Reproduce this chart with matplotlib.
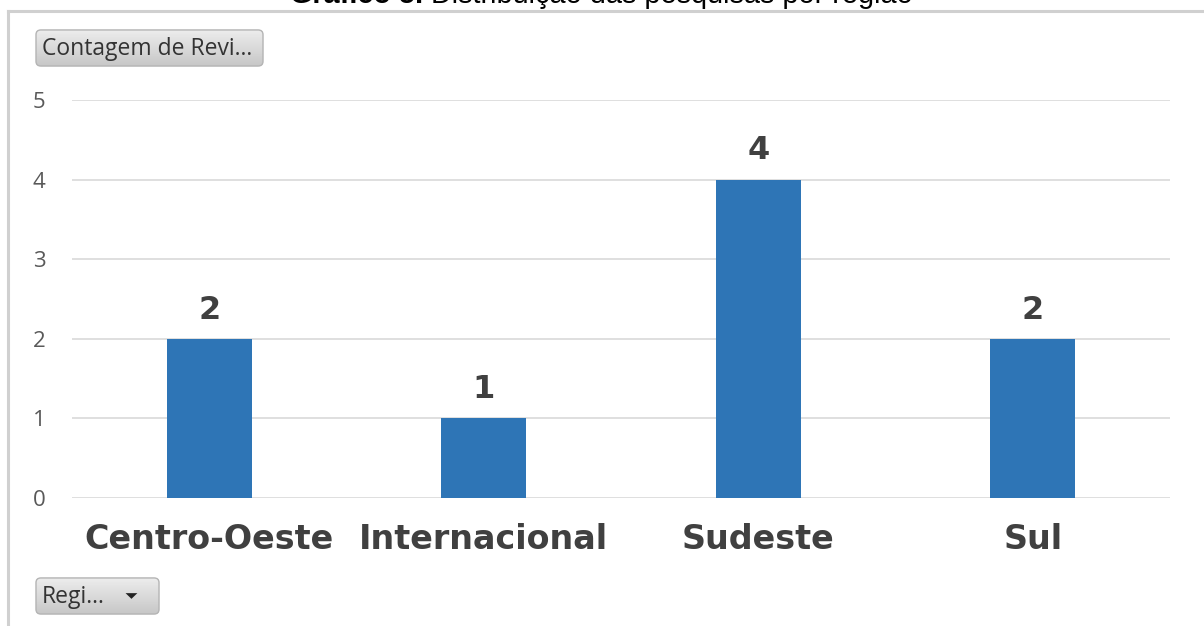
import matplotlib
matplotlib.use("Agg")
import numpy as np
from matplotlib import pyplot as plt
from matplotlib.patches import FancyBboxPatch, Polygon
from matplotlib.lines import Line2D

# dados do gráfico
regioes = ["Centro-Oeste", "Internacional", "Sudeste", "Sul"]
contagem = [2, 1, 4, 2]
y_ticks = [0, 1, 2, 3, 4, 5]

titulo_negrito = "Gráfico 5."
titulo_resto = " Distribuição das pesquisas por região"
botao_valores = "Contagem de Revi..."
botao_campo = "Regi..."

cor_barra = "#2E75B6"
cor_texto = "#404040"
W, H = 1204, 626

fig = plt.figure(figsize=(W / 100, H / 100), dpi=100)
fig.patch.set_facecolor("white")

ax = fig.add_axes([72 / W, 128 / H, 1098 / W, 398 / H])
ax.bar(range(len(regioes)), contagem, width=0.31, color=cor_barra, zorder=3)
ax.set_xlim(-0.5, len(regioes) - 0.5)
ax.set_ylim(0, 5)
ax.set_yticks(y_ticks)
ax.yaxis.grid(True, color="#D9D9D9", linewidth=1.2, zorder=0)
for s in ax.spines.values():
    s.set_visible(False)
ax.tick_params(axis="y", length=0, pad=19, labelsize=16, labelcolor="#595959")
ax.tick_params(axis="x", length=0, pad=18)
ax.set_xticks(range(len(regioes)))
ax.set_xticklabels(regioes, fontsize=24, fontweight="bold", color=cor_texto,
                   family="DejaVu Sans")
for lab in ax.get_yticklabels():
    lab.set_family("Open Sans")

# rótulos de valor acima das barras
for i, v in enumerate(contagem):
    ax.annotate(str(v), (i, v), xytext=(0, 14.5), textcoords="offset points",
                ha="center", va="baseline", fontsize=23, fontweight="bold",
                color=cor_texto, family="DejaVu Sans")

# moldura da área da tabela dinâmica
fig.add_artist(Line2D([8 / W, 1.0], [1 - 11 / H, 1 - 11 / H],
                      color="#D0D0D0", linewidth=2.2, transform=fig.transFigure))
fig.add_artist(Line2D([8 / W, 8 / W], [0, 1 - 11 / H],
                      color="#D0D0D0", linewidth=2.2, transform=fig.transFigure))

# título (parcialmente cortado na borda superior)
tam = 16
t1 = fig.text(290 / W, 1 - 3 / H, titulo_negrito, ha="left", va="baseline",
              fontsize=tam, fontweight="bold", family="Liberation Sans", color="black")
t2 = fig.text(0, 1 - 3 / H, titulo_resto, ha="left", va="baseline",
              fontsize=tam, family="Liberation Sans", color="black")
r = fig.canvas.get_renderer()
largura = t1.get_window_extent(r).width + t2.get_window_extent(r).width
tam = tam * 625 / largura
t1.set_fontsize(tam)
t2.set_fontsize(tam)
t2.set_x((290 + t1.get_window_extent(r).width) / W)


def botao(x0, y0, w, h, texto, seta=False):
    # eixo em pixels para o botão com degradê
    bax = fig.add_axes([x0 / W, 1 - (y0 + h) / H, w / W, h / H])
    bax.set_axis_off()
    bax.set_xlim(-1, w + 1)
    bax.set_ylim(-1, h + 1)
    grad = np.linspace(0.93, 0.78, 64).reshape(-1, 1)
    img = bax.imshow(grad, cmap="gray", vmin=0, vmax=1, aspect="auto",
                     extent=(0, w, 0, h), origin="upper")
    caixa = FancyBboxPatch((0, 0), w, h, boxstyle="round,pad=0,rounding_size=5",
                           facecolor="none", edgecolor="#B4B4B4", linewidth=1.0)
    bax.add_patch(caixa)
    img.set_clip_path(caixa)
    fig.text((x0 + 7) / W, 1 - (y0 + h / 2 + 1) / H, texto, ha="left", va="center",
             fontsize=16.5, color="#333333", family="Open Sans")
    if seta:
        cx, cy = w - 28, h / 2
        bax.add_patch(Polygon([(cx - 6, cy + 3), (cx + 6, cy + 3), (cx, cy - 3)],
                              closed=True, facecolor="#222222", edgecolor="none"))


botao(35, 29, 229, 38, botao_valores)
botao(35, 577, 125, 38, botao_campo, seta=True)

fig.savefig("out.png", dpi=100)
